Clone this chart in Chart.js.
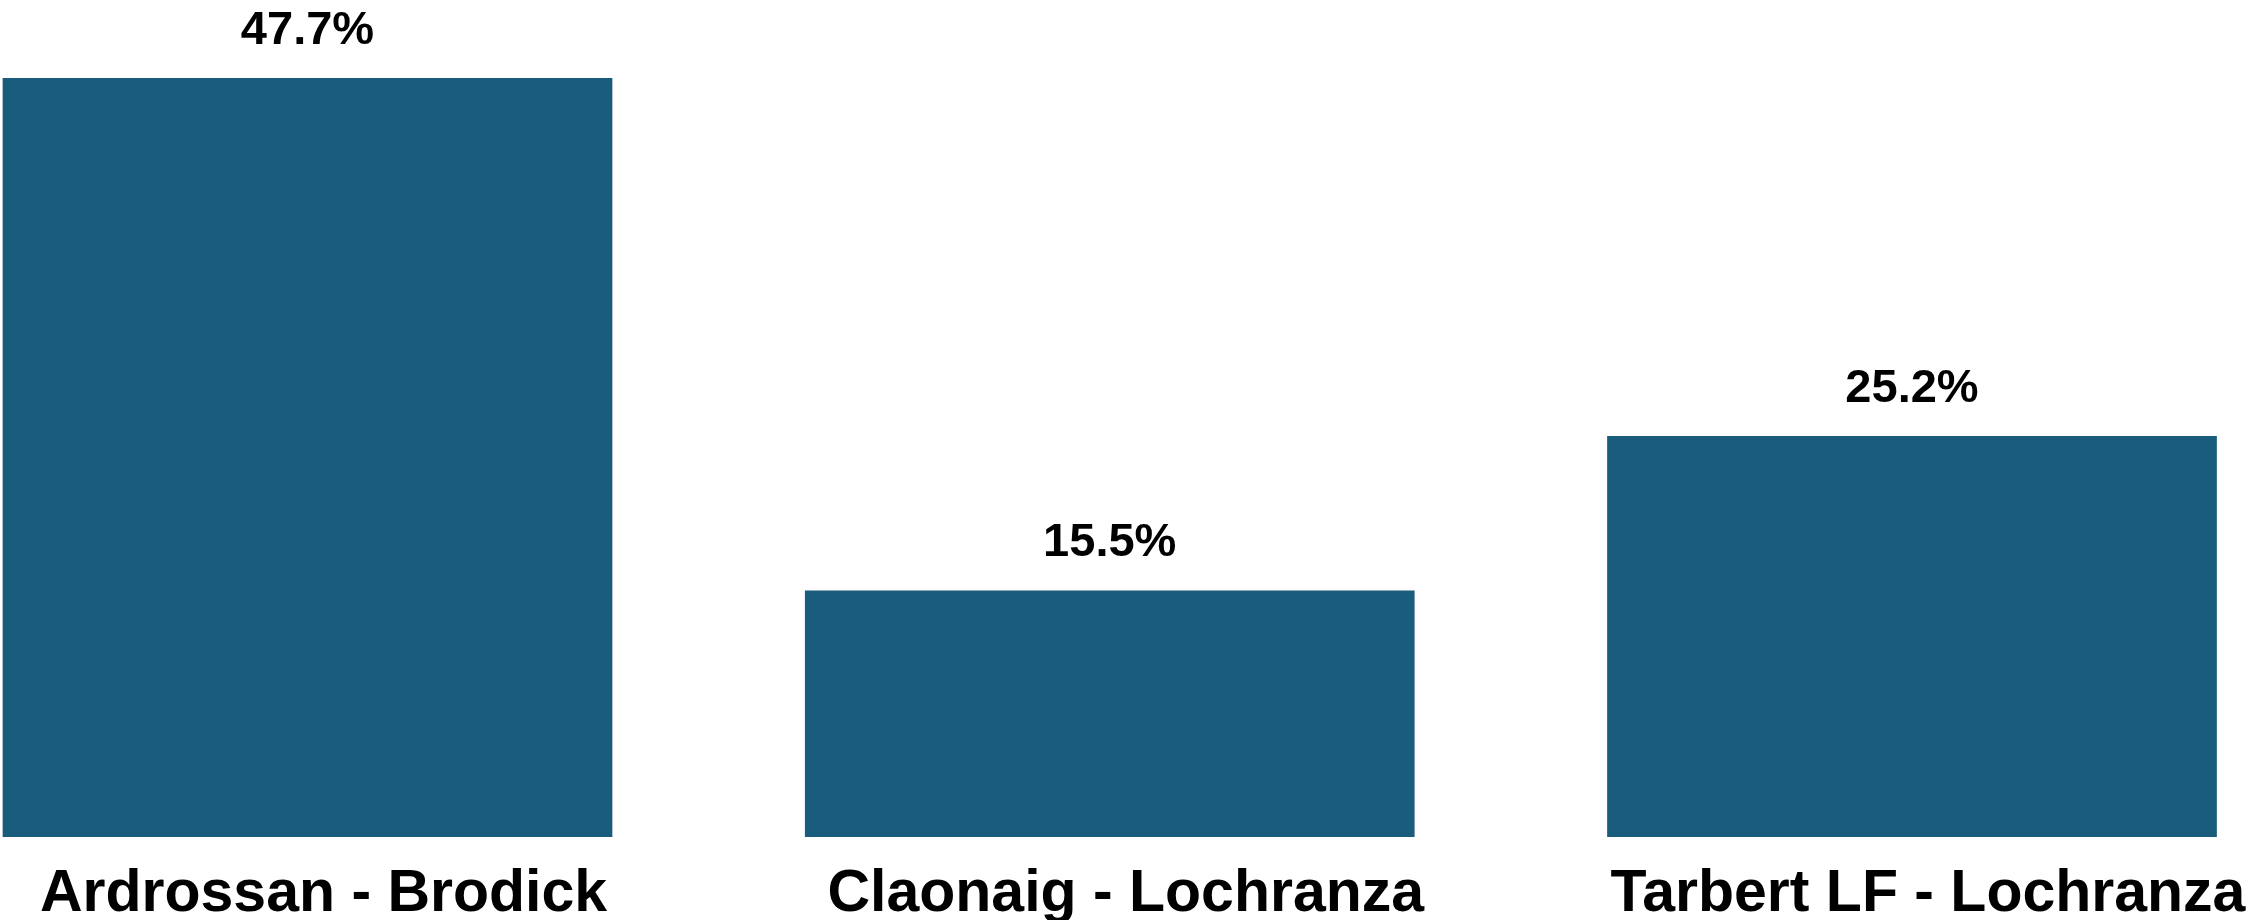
<!DOCTYPE html>
<html>
<head>
<meta charset="utf-8">
<script src="https://cdn.jsdelivr.net/npm/chart.js@4/dist/chart.umd.min.js"></script>
<style>
  html, body { margin:0; padding:0; background:#fff; }
  #wrap { width:2254px; height:922px; }
</style>
</head>
<body>
<div id="wrap"><canvas id="routeChart" width="2254" height="922"></canvas></div>
<script>
var routes = ['Ardrossan - Brodick', 'Claonaig - Lochranza', 'Tarbert LF - Lochranza'];
var shares = [47.7, 15.5, 25.2];

// value labels above each bar
var valueLabels = {
  id: 'valueLabels',
  afterDatasetsDraw: function(chart){
    var ctx = chart.ctx;
    var meta = chart.getDatasetMeta(0);
    ctx.save();
    ctx.font = 'bold 47px "Liberation Sans", Arial, sans-serif';
    ctx.fillStyle = '#000';
    ctx.textAlign = 'center';
    ctx.textBaseline = 'alphabetic';
    for(var i=0;i<meta.data.length;i++){
      var b = meta.data[i];
      ctx.fillText(shares[i].toFixed(1) + '%', b.x, b.y - 34);
    }
    ctx.restore();
  }
};

new Chart(document.getElementById('routeChart').getContext('2d'), {
  type: 'bar',
  data: {
    labels: routes,
    datasets: [{
      data: shares,
      backgroundColor: '#195c7b',
      borderWidth: 0,
      clip: false,
      categoryPercentage: 1,
      barPercentage: 0.76
    }]
  },
  options: {
    responsive: false,
    animation: false,
    devicePixelRatio: 1,
    layout: { padding: { top: 41.5, left: 307.5, right: 342, bottom: 2 } },
    plugins: { legend: { display: false }, tooltip: { enabled: false } },
    scales: {
      x: {
        offset: false,
        grid: { display: false, drawTicks: false },
        border: { display: false },
        afterFit: function(s){ s.height = 83; },
        ticks: {
          color: '#000',
          padding: 23.5,
          labelOffset: 16,
          maxRotation: 0,
          autoSkip: false,
          font: { family: '"Liberation Sans", Arial, sans-serif', size: 59, weight: 'bold', lineHeight: 1.17 }
        }
      },
      y: { display: false, min: 0, max: 50 }
    }
  },
  plugins: [valueLabels]
});
</script>
</body>
</html>
